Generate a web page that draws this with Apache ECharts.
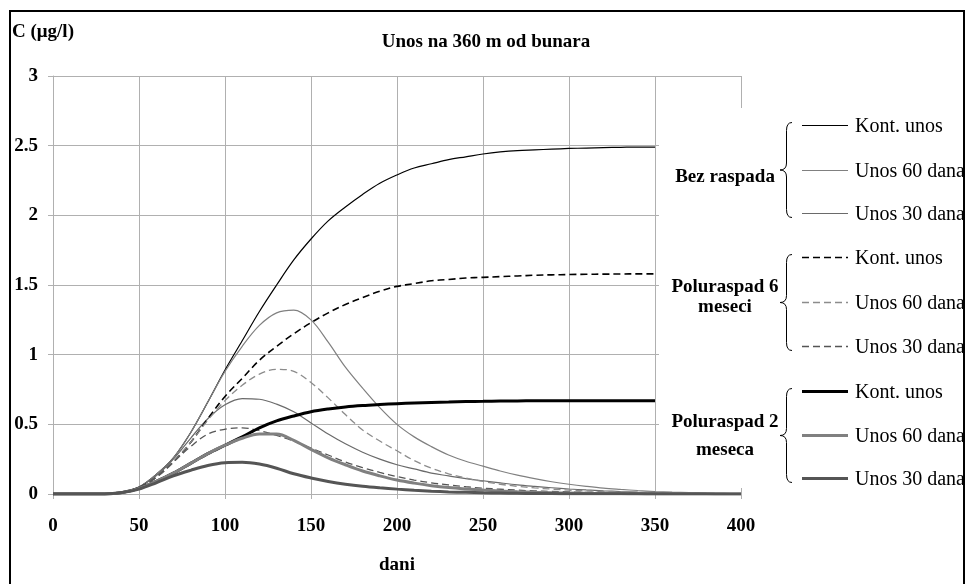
<!DOCTYPE html>
<html>
<head>
<meta charset="utf-8">
<script src="https://cdn.jsdelivr.net/npm/echarts@6/dist/echarts.min.js"></script>
<style>
  html, body { margin: 0; padding: 0; background: #fff; }
  #main { width: 966px; height: 584px; }
</style>
</head>
<body>
<div id="main"></div>
<script>
// dani (x)
const days = [0,10,20,30,40,50,60,70,80,90,100,110,120,130,140,150,160,170,180,190,200,
  210,220,230,240,250,260,270,280,290,300,310,320,330,340,350,360,370,380,390,400];

// Bez raspada
const bezKont = [0,0,0,0,0.01,0.05,0.14,0.26,0.44,0.66,0.89,1.10,1.31,1.50,1.68,1.83,1.96,2.06,2.15,2.23,2.29,
  2.34,2.37,2.40,2.42,2.44,2.455,2.465,2.47,2.475,2.48,2.483,2.486,2.488,2.49,2.49];
const bez60 = [0,0,0,0,0.01,0.05,0.14,0.26,0.44,0.66,0.88,1.06,1.21,1.30,1.32,1.25,1.09,0.91,0.76,0.62,0.50,
  0.41,0.34,0.28,0.235,0.20,0.165,0.135,0.11,0.088,0.07,0.055,0.042,0.033,0.025,0.018,0.013,0.01,0.007];
const bez30 = [0,0,0,0,0.01,0.05,0.13,0.25,0.40,0.54,0.64,0.685,0.68,0.645,0.59,0.51,0.43,0.36,0.30,0.25,0.21,
  0.18,0.15,0.13,0.11,0.095,0.08,0.066,0.055,0.045,0.036,0.029,0.023,0.018,0.014,0.011,0.009,0.007,0.005,0.004,0.003];

// Poluraspad 6 meseci
const pol6Kont = [0,0,0,0,0.01,0.045,0.12,0.23,0.37,0.54,0.70,0.83,0.96,1.06,1.15,1.23,1.30,1.36,1.41,1.455,1.49,
  1.51,1.53,1.54,1.55,1.555,1.56,1.565,1.57,1.573,1.575,1.577,1.578,1.579,1.58,1.58];
const pol660 = [0,0,0,0,0.01,0.045,0.12,0.23,0.37,0.53,0.67,0.78,0.86,0.895,0.88,0.80,0.69,0.57,0.46,0.38,0.31,
  0.24,0.185,0.145,0.115,0.09,0.07,0.055,0.044,0.035,0.028,0.022,0.018,0.014,0.011,0.009,0.007,0.005,0.004,0.003,0.002];
const pol630 = [0,0,0,0,0.01,0.045,0.12,0.23,0.34,0.43,0.465,0.475,0.455,0.42,0.38,0.33,0.28,0.23,0.19,0.155,0.125,
  0.10,0.08,0.065,0.052,0.042,0.034,0.028,0.022,0.018,0.015,0.012,0.01,0.008,0.007,0.006,0.005,0.004,0.003,0.002,0.002];

// Poluraspad 2 meseca
const pol2Kont = [0,0,0,0,0.01,0.04,0.09,0.15,0.22,0.29,0.35,0.41,0.475,0.525,0.56,0.59,0.61,0.625,0.635,0.642,0.648,
  0.653,0.657,0.66,0.663,0.665,0.667,0.668,0.669,0.67,0.67,0.67,0.67,0.67,0.67,0.67];
const pol260 = [0,0,0,0,0.01,0.04,0.09,0.15,0.22,0.29,0.35,0.40,0.43,0.43,0.385,0.32,0.26,0.21,0.165,0.13,0.10,
  0.078,0.06,0.046,0.036,0.028,0.021,0.016,0.012,0.009,0.007,0.005,0.004,0.003,0.002,0.002,0.001,0.001,0.001,0,0];
const pol230 = [0,0,0,0,0.01,0.035,0.08,0.13,0.17,0.205,0.225,0.228,0.215,0.185,0.145,0.115,0.09,0.07,0.055,0.044,0.035,
  0.027,0.02,0.015,0.012,0.009,0.007,0.005,0.004,0.003,0.002,0.002,0.001,0.001,0.001,0,0,0,0,0,0];

const groups = [
  { name: ['Bez raspada'], items: ['Kont. unos', 'Unos 60 dana', 'Unos 30 dana'] },
  { name: ['Poluraspad 6', 'meseci'], items: ['Kont. unos', 'Unos 60 dana', 'Unos 30 dana'] },
  { name: ['Poluraspad 2', 'meseca'], items: ['Kont. unos', 'Unos 60 dana', 'Unos 30 dana'] }
];

const serif = '"Liberation Serif", "Times New Roman", serif';
const gridColor = '#b0b0b0';

// stil linija (grupa x stavka)
const styles = [
  { data: bezKont, color: '#000000', width: 1.2, type: 'solid' },
  { data: bez60, color: '#808080', width: 1.2, type: 'solid' },
  { data: bez30, color: '#6a6a6a', width: 1.2, type: 'solid' },
  { data: pol6Kont, color: '#000000', width: 1.6, type: [7, 4] },
  { data: pol660, color: '#8c8c8c', width: 1.3, type: [7, 4] },
  { data: pol630, color: '#555555', width: 1.3, type: [7, 4] },
  { data: pol2Kont, color: '#000000', width: 3, type: 'solid' },
  { data: pol260, color: '#808080', width: 3, type: 'solid' },
  { data: pol230, color: '#555555', width: 3, type: 'solid' }
];

function pairs(vals) {
  return vals.map((v, i) => [days[i], v]);
}

const series = styles.map((s, i) => ({
  name: groups[Math.floor(i / 3)].name.join(' ') + ' - ' + groups[Math.floor(i / 3)].items[i % 3],
  type: 'line',
  data: pairs(s.data),
  showSymbol: false,
  smooth: 0.35,
  lineStyle: { color: s.color, width: s.width, type: s.type },
  z: i < 6 ? 3 : 4
}));

// legenda sa zagradama
const graphic = [];
graphic.push({ type: 'rect', shape: { x: 659, y: 108, width: 302, height: 380 },
  style: { fill: '#fff' }, z: 100 });
const lineY = [[125.5, 170.5, 213.5], [257.5, 302.5, 346.5], [391.5, 435.5, 478.5]];
const labelY = [[177], [287, 307], [422, 450]];
const braceStyle = { stroke: '#000', lineWidth: 1, fill: null };
groups.forEach((g, gi) => {
  const ys = lineY[gi];
  const top = ys[0] - 3, bot = ys[2] + 4, mid = (top + bot) / 2;
  graphic.push({ type: 'bezierCurve', z: 101, style: braceStyle,
    shape: { x1: 792, y1: top, x2: 786.5, y2: top + 8, cpx1: 786.5, cpy1: top } });
  graphic.push({ type: 'line', z: 101, style: braceStyle,
    shape: { x1: 786.5, y1: top + 8, x2: 786.5, y2: mid - 7 } });
  graphic.push({ type: 'bezierCurve', z: 101, style: braceStyle,
    shape: { x1: 786.5, y1: mid - 7, x2: 780, y2: mid, cpx1: 786.5, cpy1: mid } });
  graphic.push({ type: 'bezierCurve', z: 101, style: braceStyle,
    shape: { x1: 780, y1: mid, x2: 786.5, y2: mid + 7, cpx1: 786.5, cpy1: mid } });
  graphic.push({ type: 'line', z: 101, style: braceStyle,
    shape: { x1: 786.5, y1: mid + 7, x2: 786.5, y2: bot - 8 } });
  graphic.push({ type: 'bezierCurve', z: 101, style: braceStyle,
    shape: { x1: 786.5, y1: bot - 8, x2: 792, y2: bot, cpx1: 786.5, cpy1: bot } });
  g.name.forEach((t, k) => {
    graphic.push({ type: 'text', x: 725, y: labelY[gi][k], z: 101,
      style: { text: t, fill: '#000', font: 'bold 19px ' + serif, align: 'center', verticalAlign: 'middle' } });
  });
  g.items.forEach((t, k) => {
    const s = styles[gi * 3 + k];
    graphic.push({ type: 'line', z: 101, shape: { x1: 802, y1: ys[k], x2: 848, y2: ys[k] },
      style: { stroke: s.color, lineWidth: s.width, lineDash: Array.isArray(s.type) ? s.type : null } });
    graphic.push({ type: 'text', x: 855, y: ys[k] + 1, z: 101,
      style: { text: t, fill: '#000', font: '20px ' + serif, align: 'left', verticalAlign: 'middle' } });
  });
});
// okvir
graphic.push({ type: 'rect', shape: { x: 10, y: 11, width: 954, height: 600 },
  style: { fill: null, stroke: '#000', lineWidth: 2 }, z: 102 });
graphic.push({ type: 'text', x: 12, y: 32, z: 101,
  style: { text: 'C (μg/l)', fill: '#000', font: 'bold 19px ' + serif, verticalAlign: 'middle' } });
graphic.push({ type: 'text', x: 486, y: 42, z: 101,
  style: { text: 'Unos na 360 m od bunara', fill: '#000', font: 'bold 19px ' + serif, align: 'center', verticalAlign: 'middle' } });
graphic.push({ type: 'text', x: 397, y: 565, z: 101,
  style: { text: 'dani', fill: '#000', font: 'bold 19px ' + serif, align: 'center', verticalAlign: 'middle' } });

const chart = echarts.init(document.getElementById('main'), null, { renderer: 'canvas' });
chart.setOption({
  animation: false,
  backgroundColor: '#fff',
  grid: { left: 53, right: 225, top: 76, bottom: 90, containLabel: false },
  xAxis: {
    type: 'value', min: 0, max: 400, interval: 50,
    axisLine: { show: true, lineStyle: { color: gridColor } },
    axisTick: { show: true, length: 5, lineStyle: { color: gridColor } },
    axisLabel: { color: '#000', fontFamily: serif, fontWeight: 'bold', fontSize: 19, margin: 23 },
    splitLine: { show: true, lineStyle: { color: gridColor, width: 1 } }
  },
  yAxis: {
    type: 'value', min: 0, max: 3, interval: 0.5,
    axisLine: { show: true, lineStyle: { color: gridColor } },
    axisTick: { show: true, length: 5, lineStyle: { color: gridColor } },
    axisLabel: { color: '#000', fontFamily: serif, fontWeight: 'bold', fontSize: 19, margin: 15 },
    splitLine: { show: true, lineStyle: { color: gridColor, width: 1 } }
  },
  series: series,
  graphic: graphic
});
</script>
</body>
</html>
